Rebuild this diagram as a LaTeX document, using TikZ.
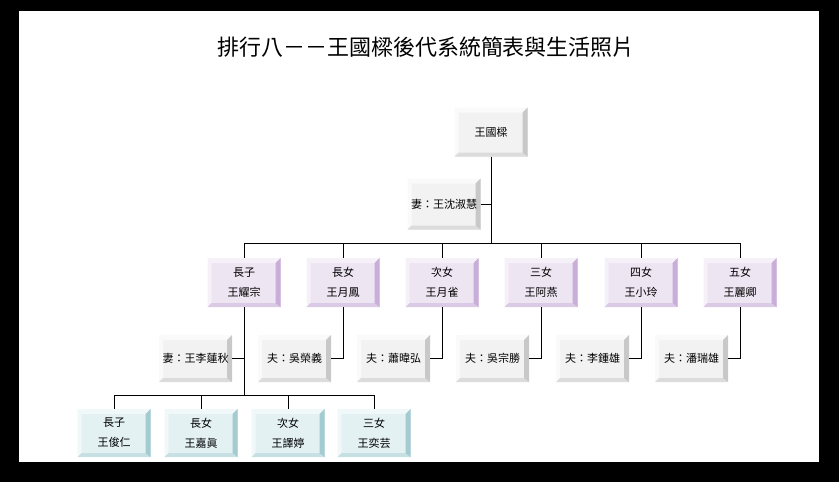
\documentclass[tikz,border=0pt]{standalone}
\usepackage{fontspec}
\newfontfamily\cjk{Noto Sans CJK TC}
\definecolor{gface}{HTML}{F2F2F2}
\definecolor{glight}{HTML}{FAFAFA}
\definecolor{gdark}{HTML}{C8C8C8}
\definecolor{gmid}{HTML}{DCDCDC}
\definecolor{pface}{HTML}{EEE5F3}
\definecolor{plight}{HTML}{F6F1F9}
\definecolor{pdark}{HTML}{C9AEDA}
\definecolor{pmid}{HTML}{DACAE5}
\definecolor{cface}{HTML}{E3F1F3}
\definecolor{clight}{HTML}{F1F8F9}
\definecolor{cdark}{HTML}{A4CBD0}
\definecolor{cmid}{HTML}{C6E0E3}
\tikzset{
  bevelbox/.style n args={4}{
    rectangle, fill=#1, minimum width=73pt, minimum height=49pt,
    inner sep=0pt, align=center, font=\cjk\fontsize{11}{20}\selectfont,
    path picture={
      \fill[#2] (path picture bounding box.north west) -- (path picture bounding box.north east)
        -- ([xshift=-5pt,yshift=-5pt]path picture bounding box.north east)
        -- ([xshift=4pt,yshift=-5pt]path picture bounding box.north west) -- cycle;
      \fill[#2] (path picture bounding box.north west) -- (path picture bounding box.south west)
        -- ([xshift=4pt,yshift=4pt]path picture bounding box.south west)
        -- ([xshift=4pt,yshift=-5pt]path picture bounding box.north west) -- cycle;
      \fill[#4] (path picture bounding box.south west) -- (path picture bounding box.south east)
        -- ([xshift=-5pt,yshift=4pt]path picture bounding box.south east)
        -- ([xshift=4pt,yshift=4pt]path picture bounding box.south west) -- cycle;
      \fill[#3] (path picture bounding box.north east) -- (path picture bounding box.south east)
        -- ([xshift=-5pt,yshift=4pt]path picture bounding box.south east)
        -- ([xshift=-5pt,yshift=-5pt]path picture bounding box.north east) -- cycle;
    }},
  graybox/.style={bevelbox={gface}{glight}{gdark}{gmid}},
  purplebox/.style={bevelbox={pface}{plight}{pdark}{pmid}},
  cyanbox/.style={bevelbox={cface}{clight}{cdark}{cmid}},
  link/.style={draw=black, line width=0.9pt},
}
\begin{document}
\begin{tikzpicture}[x=1pt,y=-1pt]
\fill[black] (0,0) rectangle (839,482);
\fill[white] (19,11) rectangle (819,462);
\node[font=\cjk\fontsize{22}{24}\selectfont, inner sep=0pt] (title) at (426,47) {排行八－－王國樑後代系統簡表與生活照片};

\node[graybox] (root) at (491,132) {王國樑};
\node[graybox, minimum height=51pt] (wife) at (444,204) {妻：王沈淑慧};
\coordinate (bar1) at (491,243);

\node[purplebox] (c1) at (244,282.5) {長子\\王耀宗};
\node[purplebox] (c2) at (343,282.5) {長女\\王月鳳};
\node[purplebox] (c3) at (442,282.5) {次女\\王月雀};
\node[purplebox] (c4) at (541,282.5) {三女\\王阿燕};
\node[purplebox] (c5) at (641,282.5) {四女\\王小玲};
\node[purplebox] (c6) at (740,282.5) {五女\\王麗卿};

\node[graybox, minimum height=47pt] (s1) at (195.5,358.5) {妻：王李蓮秋};
\node[graybox, minimum height=47pt] (s2) at (294.5,358.5) {夫：吳榮義};
\node[graybox, minimum height=47pt] (s3) at (393.5,358.5) {夫：蕭暐弘};
\node[graybox, minimum height=47pt] (s4) at (492.5,358.5) {夫：吳宗勝};
\node[graybox, minimum height=47pt] (s5) at (592.5,358.5) {夫：李鍾雄};
\node[graybox, minimum height=47pt] (s6) at (691.5,358.5) {夫：潘瑞雄};

\coordinate (bar2) at (244,395);
\node[cyanbox, minimum height=48pt] (g1) at (114,433) {長子\\王俊仁};
\node[cyanbox, minimum height=48pt] (g2) at (201,433) {長女\\王嘉眞};
\node[cyanbox, minimum height=48pt] (g3) at (288,433) {次女\\王譯婷};
\node[cyanbox, minimum height=48pt] (g4) at (374,433) {三女\\王奕芸};

% connectors
\draw[link] (root.south) -- (bar1);
\draw[link] (wife.east) -- (wife.east -| root.south);
\draw[link] (c1.north |- bar1) -- (c6.north |- bar1);
\foreach \c in {c1,c2,c3,c4,c5,c6}{\draw[link] (\c.north) -- (\c.north |- bar1);}
\foreach \c/\s in {c2/s2,c3/s3,c4/s4,c5/s5,c6/s6}{\draw[link] (\c.south) |- (\s.east);}
\draw[link] (c1.south) -- (bar2);
\draw[link] (s1.east) -- (s1.east -| c1.south);
\draw[link] (g1.north |- bar2) -- (g4.north |- bar2);
\foreach \g in {g1,g2,g3,g4}{\draw[link] (\g.north) -- (\g.north |- bar2);}
\end{tikzpicture}
\end{document}
